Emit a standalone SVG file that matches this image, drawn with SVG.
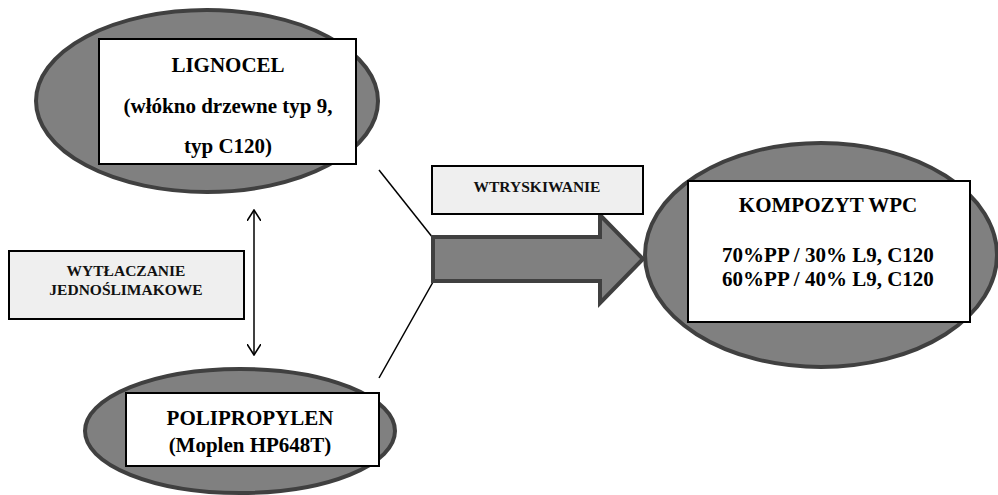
<svg xmlns="http://www.w3.org/2000/svg" width="998" height="495" viewBox="0 0 998 495">
<style>
.ell{fill:#808080;stroke:#404040;stroke-width:4}
.box{fill:#ffffff;stroke:#000000;stroke-width:2}
.lbox{fill:#efefef;stroke:#000000;stroke-width:2}
.t{font-family:"Liberation Serif","Times New Roman",serif;font-weight:bold;font-size:21px;fill:#000;text-anchor:middle}
.s{font-family:"Liberation Serif","Times New Roman",serif;font-weight:bold;font-size:15.5px;fill:#111;text-anchor:middle}
.ln{stroke:#000;stroke-width:1.5;fill:none}
</style>
<defs>
<marker id="v" viewBox="0 0 12 14" refX="11" refY="7" markerWidth="12" markerHeight="14" markerUnits="userSpaceOnUse" orient="auto-start-reverse">
<path d="M0,0 L11,7 L0,14" fill="none" stroke="#000" stroke-width="1.6"/>
</marker>
</defs>
<rect width="998" height="495" fill="#ffffff"/>
<g id="connectors">
<line class="ln" x1="379" y1="170" x2="433" y2="238"/>
<line class="ln" x1="379" y1="378" x2="433" y2="282"/>
<line class="ln" x1="254" y1="210" x2="254" y2="355" marker-start="url(#v)" marker-end="url(#v)"/>
<path d="M433,237 L600,237 L600,215 L643,259 L600,303 L600,281 L433,281 Z" fill="#808080" stroke="#404040" stroke-width="4" stroke-linejoin="miter"/>
</g>
<g id="lignocel">
<ellipse class="ell" cx="207" cy="101" rx="171" ry="91"/>
<rect class="box" x="99" y="39" width="257" height="125"/>
<text class="t" x="228" y="72">LIGNOCEL</text>
<text class="t" x="228" y="113">(włókno drzewne typ 9,</text>
<text class="t" x="228" y="153">typ C120)</text>
</g>
<g id="polipropylen">
<ellipse class="ell" cx="240" cy="431" rx="155" ry="62"/>
<rect class="box" x="126" y="393" width="253" height="73"/>
<text class="t" x="250" y="425">POLIPROPYLEN</text>
<text class="t" x="250" y="452">(Moplen HP648T)</text>
</g>
<g id="wytlaczanie">
<rect class="lbox" x="9" y="251" width="235" height="68"/>
<text class="s" x="126" y="276">WYTŁACZANIE</text>
<text class="s" x="126" y="295">JEDNOŚLIMAKOWE</text>
</g>
<g id="wtryskiwanie">
<rect class="lbox" x="432" y="166" width="211" height="48"/>
<text class="s" x="537" y="192">WTRYSKIWANIE</text>
</g>
<g id="kompozyt">
<ellipse class="ell" cx="821" cy="255" rx="176" ry="112"/>
<rect class="box" x="688" y="181" width="282" height="141"/>
<text class="t" x="828" y="212">KOMPOZYT WPC</text>
<text class="t" x="828" y="262">70%PP / 30% L9, C120</text>
<text class="t" x="828" y="286">60%PP / 40% L9, C120</text>
</g>
</svg>
